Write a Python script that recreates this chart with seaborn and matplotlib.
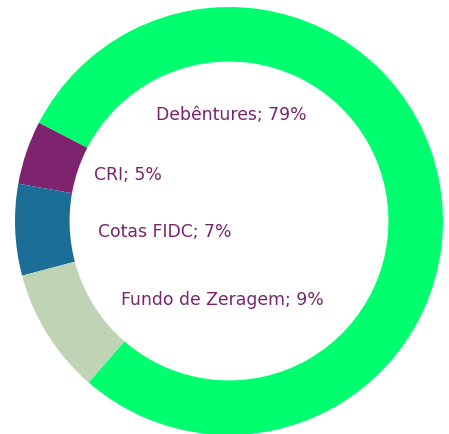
import matplotlib
matplotlib.use("Agg")
import matplotlib.pyplot as plt
import seaborn as sns

categories = ["Debêntures", "CRI", "Cotas FIDC", "Fundo de Zeragem"]
values = [78.8, 4.8, 6.9, 9.5]
pct_labels = ["79%", "5%", "7%", "9%"]
colors = ["#00FF6E", "#7E236E", "#1B6E95", "#BFD4B4"]

sns.set_theme(style="white")
plt.rcParams["font.family"] = ["DejaVu Sans"]

W, H, DPI = 449, 434, 100
fig = plt.figure(figsize=(W / DPI, H / DPI), dpi=DPI)
cx, cy, R = 229, 221, 214
ax = fig.add_axes([(cx - R) / W, (H - cy - R) / H, 2 * R / W, 2 * R / H])
ax.pie(values, colors=colors, startangle=229, counterclock=True, radius=1,
       wedgeprops=dict(width=0.255, edgecolor="none", linewidth=0))
ax.set_xlim(-1, 1)
ax.set_ylim(-1, 1)
ax.set_aspect("equal")
ax.axis("off")

# label centres in pixel coordinates of the reference
label_px = [(231, 115), (128, 175), (165, 232), (222, 300)]
for cat, pl, (px, py) in zip(categories, pct_labels, label_px):
    ax.text((px - cx) / R, (cy - py) / R, f"{cat}; {pl}", ha="center", va="center",
            color="#7A2470", fontsize=12.4)

fig.savefig("out.png", dpi=DPI)
